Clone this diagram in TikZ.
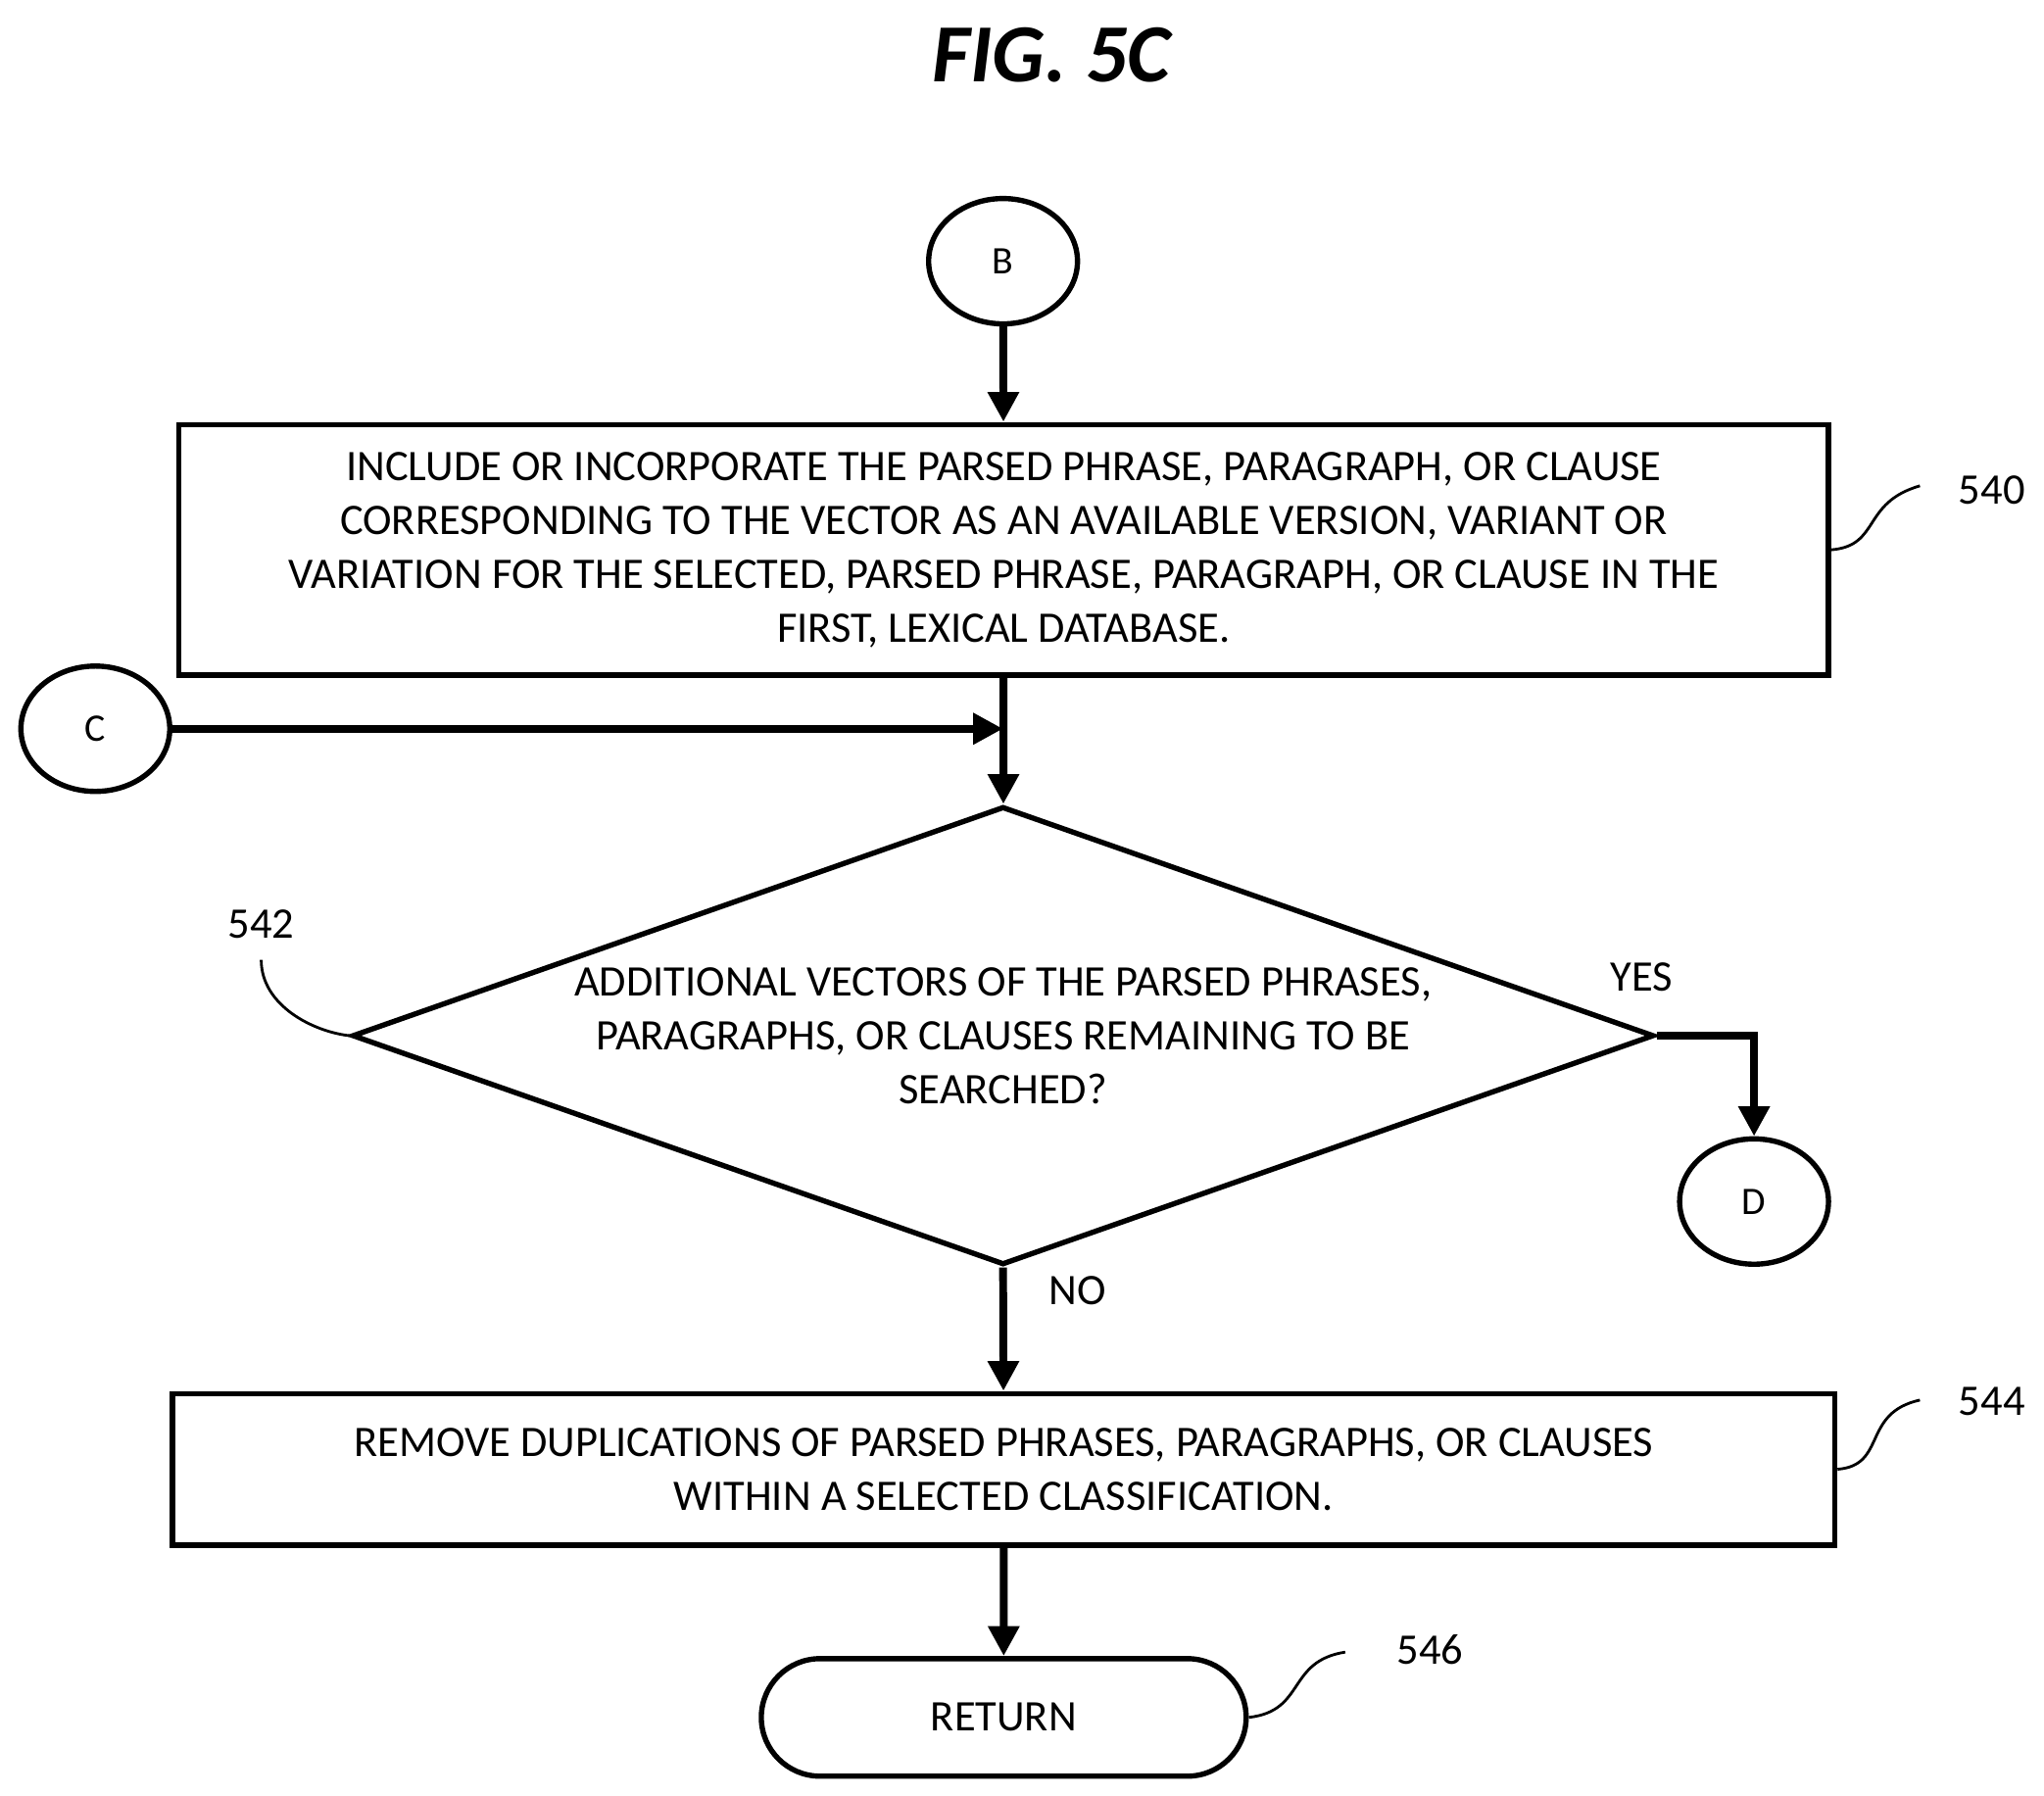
\documentclass[tikz,border=0pt]{standalone}
\usepackage{fontspec}
\setmainfont{Carlito}
\usetikzlibrary{shapes.geometric,shapes.misc,arrows.meta}
\tikzset{
  box/.style={draw,line width=2.3pt,align=center,font=\fontsize{19}{23.5}\selectfont},
  conn/.style={draw,ellipse,line width=2.3pt,minimum width=2.28cm,minimum height=1.92cm,font=\fontsize{17}{20}\selectfont},
  flow/.style={line width=3.4pt,-{Triangle[length=13pt,width=13pt]}},
  lbl/.style={font=\fontsize{19}{23}\selectfont},
  squig/.style={line width=1.2pt}
}
\begin{document}
\begin{tikzpicture}[x=0.02cm,y=-0.02cm]
\useasboundingbox (0,0) rectangle (1565,1375);
\node[font=\fontsize{36}{40}\selectfont\bfseries\itshape] (title) at (805,42) {FIG. 5C};

\node[conn] (b) at (768,200) {B};
\node[box,minimum width=25.26cm,minimum height=3.84cm] (s540) at (768.5,421) {INCLUDE OR INCORPORATE THE PARSED PHRASE, PARAGRAPH, OR CLAUSE\\CORRESPONDING TO THE VECTOR AS AN AVAILABLE VERSION, VARIANT OR\\VARIATION FOR THE SELECTED, PARSED PHRASE, PARAGRAPH, OR CLAUSE IN THE\\FIRST, LEXICAL DATABASE.};
\node[conn] (c) at (73,558) {C};
\coordinate (join) at (768,558);
\node[box,diamond,aspect=2.84,inner sep=0pt,minimum width=19.94cm,minimum height=7.02cm] (s542) at (768,793) {ADDITIONAL VECTORS OF THE PARSED PHRASES,\\PARAGRAPHS, OR CLAUSES REMAINING TO BE\\SEARCHED?};
\node[conn] (d) at (1343,920) {D};
\node[box,minimum width=25.46cm,minimum height=2.32cm] (s544) at (768.5,1125) {REMOVE DUPLICATIONS OF PARSED PHRASES, PARAGRAPHS, OR CLAUSES\\WITHIN A SELECTED CLASSIFICATION.};
\node[box,rounded rectangle,minimum width=7.66cm,minimum height=1.8cm] (s546) at (768.5,1315) {RETURN};

\draw[flow] (b) -- (s540);
\draw[flow] (c) -- (join);
\draw[flow] (s540) -- (s542);
\draw[flow] (s542.east) -| (d);
\draw[flow] (s542.south) -- (s544);
\draw[flow] (s544) -- (s546);

\node[lbl] (yes) at (1257,748) {YES};
\node[lbl] (no) at (825,988) {NO};

\node[lbl] (n540) at (1525,375) {540};
\node[lbl] (n542) at (200,708) {542};
\node[lbl] (n544) at (1525,1073) {544};
\node[lbl] (n546) at (1095,1263) {546};
\draw[squig] (s540.east) .. controls (1440,418) and (1425,385) .. (1470,372);
\draw[squig] (s544.east) .. controls (1445,1122) and (1425,1082) .. (1470,1072);
\draw[squig] (s546.east) .. controls (1000,1310) and (985,1272) .. (1030,1265);
\draw[squig] (200,735) .. controls (200,770) and (240,790) .. (s542.west);
\end{tikzpicture}
\end{document}
